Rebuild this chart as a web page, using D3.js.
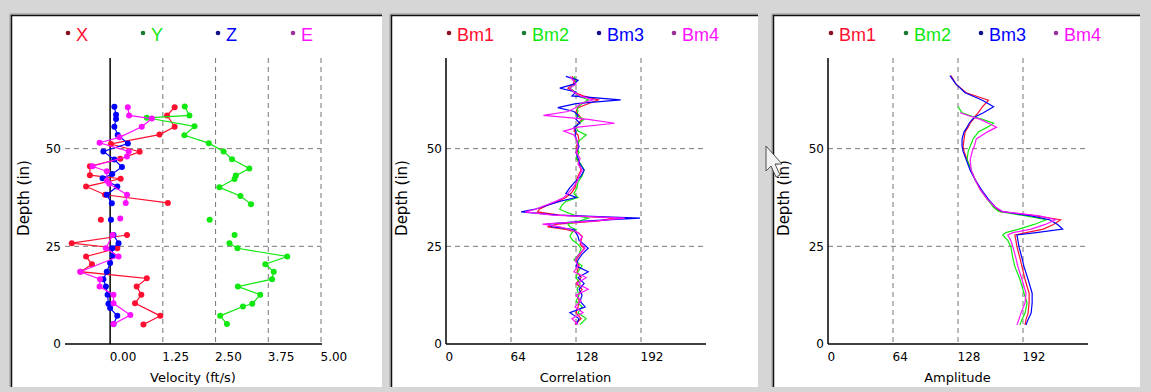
<!DOCTYPE html>
<meta charset="utf-8">
<script src="https://d3js.org/d3.v7.min.js"></script>
<style>
body { margin: 0; background: #d6d6d6; }
svg { display: block; }
</style>
<body></body>
<script>

// ---- data ----
// velocity panel: [depth (in), velocity (ft/s)], null = gap in trace
var velNames = ["X", "Y", "Z", "E"];
var velX = [[60.6,1.53],[58.5,1.35],[55.6,1.53],[53.6,1.17],[51.2,0.02],[49.2,0.70],[47.4,0.24],[45.5,-0.48],[43.2,-0.48],[42.3,0.25],[40.3,-0.57],[38.2,-0.12],[36.1,1.37],[33.8,null],[31.8,-0.22],[29.8,null],[27.9,0.40],[25.8,-0.91],[24.5,0.17],[22.4,-0.57],[20.4,-0.43],[18.5,-0.70],[16.8,0.87],[14.7,0.63],[12.6,0.74],[10.4,0.59],[7.2,1.19],[5.0,0.79]];
var velY = [[60.8,1.77],[58.5,1.88],[57.9,0.87],[55.7,2.00],[53.4,1.76],[51.4,2.34],[49.3,2.69],[47.3,2.89],[44.9,3.30],[43.1,2.98],[42.2,2.95],[40.1,2.59],[37.9,3.09],[35.8,3.34],[33.8,null],[31.8,2.36],[29.8,null],[27.9,2.95],[26.8,null],[25.8,2.83],[24.5,3.02],[22.4,4.20],[20.4,3.68],[18.5,3.88],[16.6,3.84],[14.7,3.03],[12.6,3.56],[10.3,3.37],[9.6,3.15],[7.2,2.61],[5.1,2.77]];
var velZ = [[60.7,0.10],[58.7,0.14],[57.6,0.14],[55.6,0.10],[53.5,0.18],[51.3,0.42],[49.3,-0.16],[47.2,0.10],[45.3,0.28],[43.5,0.05],[42.4,-0.18],[40.3,0.17],[38.2,-0.08],[36.0,0.04],[33.8,null],[31.8,0.02],[29.8,null],[27.9,0.08],[25.8,0.20],[24.5,0.05],[22.6,0.06],[20.7,0.00],[18.5,-0.08],[16.6,-0.16],[14.7,-0.10],[12.6,-0.06],[10.3,-0.04],[9.2,0.00],[7.2,0.17],[5.1,0.08]];
var velE = [[60.6,0.42],[58.5,0.45],[57.7,0.99],[55.6,0.75],[52.9,0.22],[51.5,-0.25],[49.3,0.44],[48.0,0.40],[45.5,-0.42],[44.2,-0.08],[41.8,-0.08],[41.0,-0.02],[38.2,0.40],[36.1,0.37],[33.8,null],[32.1,0.24],[29.8,null],[27.9,0.06],[24.5,-0.10],[22.4,0.20],[18.5,-0.71],[16.6,-0.24],[14.7,-0.25],[12.6,0.08],[10.4,0.08],[7.4,0.48],[5.1,0.08]];

var beamNames = ["Bm1", "Bm2", "Bm3", "Bm4"];

// correlation panel
var corrDepth = [68.5,67.5,66.5,65.5,64.5,63.5,62.5,61.5,60.5,59.5,58.5,57.5,56.5,55.5,54.5,53.5,52,50.5,49,47.5,46,44.5,43,41.5,40,38.5,37.5,36.5,35.5,34.5,33.8,33,32.2,31.5,30.7,30,29.3,28.5,27.5,26.5,25.5,24.5,23,21.5,20,18.5,17,15.5,14,12.5,11,9.5,8,6.5,5];
var corrBm1 = [124,127,125,120,126,135,150,140,130,128,131,134,130,128,126,130,131,128,130,129,131,133,130,128,127,123,118,110,100,92,90,112,168,150,110,100,118,130,134,133,132,136,132,128,131,129,133,128,134,130,131,130,128,133,127];
var corrBm2 = [126,128,127,122,127,130,140,134,129,130,128,136,131,128,130,138,131,129,131,128,133,136,134,130,129,126,130,118,114,112,118,126,140,132,120,122,128,124,122,125,130,133,131,126,134,130,128,132,129,131,128,134,130,138,132];
var corrBm3 = [118,130,126,112,128,124,172,128,110,126,130,128,132,126,128,127,129,131,128,130,132,136,133,127,122,118,128,112,100,88,74,110,191,140,100,104,126,128,130,131,136,140,134,130,128,140,130,136,131,134,132,137,122,131,128];
var corrBm4 = [122,125,128,122,126,132,145,132,128,120,96,140,166,130,116,126,129,130,128,132,130,134,131,129,125,120,116,108,98,88,78,105,176,148,95,112,122,130,134,132,134,137,131,127,130,126,138,129,140,128,133,127,135,124,130];

// amplitude panel
var ampDepth = [68.7,66.5,64.3,62.4,60.7,59.2,58.3,57.5,56.5,55.5,54.3,52.5,50.6,49.3,47.2,44.5,42,39.5,37,35,33.9,32.8,31.8,30.6,29.4,28.5,27.9,26.5,24.9,22,19.8,16.5,13,10.5,7.9,6.3,4.9];
var ampBm1 = [121,126,136,158,152,148,145,143,140,138,135,134,133,134,137,141,145,150,157,164,170,205,229,222,212,195,184,185,186,189,191,194,198,198,197,195,194];
var ampBm2 = [null,null,null,null,128,132,142,152,163,157,148,143,140,138,137,141,145,150,157,163,168,195,215,203,188,175,172,177,180,182,184,189,193,196,194,191,189];
var ampBm3 = [120,126,135,152,163,153,146,142,139,137,134,132,132,133,136,140,145,151,158,165,171,200,218,226,231,205,186,187,188,191,193,197,201,201,200,197,195];
var ampBm4 = [null,null,null,null,null,130,140,150,158,166,157,146,144,142,140,141,145,150,157,165,172,208,224,214,200,182,177,180,182,185,187,191,195,194,190,188,186];

var depthTicks = [0, 25, 50];

var lineColors = ["#ff0f2f", "#10e810", "#0000ff", "#ff10ff"];
var dotColors = ["#8a1020", "#1a7a30", "#10108a", "#9a309a"];

function pairs(depths, vals) {
  return depths.map(function(d, i) { return [d, vals[i]]; });
}

var panels = [
  { left: 11, width: 371, range: [65, 321], domain: [-1.07, 5], ticks: [0, 1.25, 2.5, 3.75, 5],
    grid: [1.25, 2.5, 3.75, 5], fmt: d3.format(".2f"), title: "Velocity (ft/s)", names: velNames,
    series: [velX, velY, velZ, velE], markers: true, depthX: 29 },
  { left: 391, width: 367, range: [446, 705], domain: [0, 255], ticks: [0, 64, 128, 192],
    grid: [64, 128, 192], fmt: d3.format("d"), title: "Correlation", names: beamNames,
    series: [pairs(corrDepth, corrBm1), pairs(corrDepth, corrBm2), pairs(corrDepth, corrBm3), pairs(corrDepth, corrBm4)],
    markers: false, depthX: 407 },
  { left: 773, width: 367, range: [828, 1087], domain: [0, 255], ticks: [0, 64, 128, 192],
    grid: [64, 128, 192], fmt: d3.format("d"), title: "Amplitude", names: beamNames,
    series: [pairs(ampDepth, ampBm1), pairs(ampDepth, ampBm2), pairs(ampDepth, ampBm3), pairs(ampDepth, ampBm4)],
    markers: false, depthX: 789 }
];

var svg = d3.select("body").append("svg")
  .attr("width", 1151)
  .attr("height", 392);

var yScale = d3.scaleLinear().domain([0, 73.2]).range([344, 58]);

panels.forEach(function(p) {
  var g = svg.append("g");
  var x = d3.scaleLinear().domain(p.domain).range(p.range);

  // sunken white panel
  g.append("rect").attr("x", p.left).attr("y", 15).attr("width", p.width).attr("height", 372).attr("fill", "#fff");
  g.append("path").attr("d", "M" + (p.left - 1) + ",387V14H" + (p.left + p.width))
    .attr("fill", "none").attr("stroke", "#9a9a9a").attr("stroke-width", 1);
  g.append("path").attr("d", "M" + (p.left + 0.5) + ",387V15.5H" + (p.left + p.width))
    .attr("fill", "none").attr("stroke", "#111").attr("stroke-width", 1.5);

  // grid
  g.selectAll(".vgrid").data(p.grid).enter().append("line")
    .attr("x1", function(d) { return x(d); }).attr("x2", function(d) { return x(d); })
    .attr("y1", yScale.range()[1]).attr("y2", yScale(0))
    .attr("stroke", "#777").attr("stroke-dasharray", "5,4");
  g.selectAll(".hgrid").data([25, 50]).enter().append("line")
    .attr("x1", p.range[0]).attr("x2", p.range[1])
    .attr("y1", function(d) { return yScale(d); }).attr("y2", function(d) { return yScale(d); })
    .attr("stroke", "#777").attr("stroke-dasharray", "5,4");

  // axes lines
  g.append("line").attr("x1", p.range[0]).attr("x2", p.range[1] + 1)
    .attr("y1", yScale(0)).attr("y2", yScale(0)).attr("stroke", "#000").attr("stroke-width", 1.5);
  g.append("line").attr("x1", x(0)).attr("x2", x(0))
    .attr("y1", yScale.range()[1]).attr("y2", yScale(0)).attr("stroke", "#000").attr("stroke-width", 1.5);

  // tick labels
  var xAxis = g.append("g")
    .attr("transform", "translate(0," + yScale(0) + ")")
    .call(d3.axisBottom(x).tickValues(p.ticks).tickFormat(p.fmt).tickSize(0).tickPadding(8));
  xAxis.select(".domain").remove();
  xAxis.selectAll("text").attr("text-anchor", "start").attr("dx", -1)
    .attr("font-family", "DejaVu Sans").attr("font-size", 12).attr("fill", "#000");

  var yAxis = g.append("g")
    .attr("transform", "translate(" + p.range[0] + ",0)")
    .call(d3.axisLeft(yScale).tickValues(depthTicks).tickFormat(d3.format("d")).tickSize(0).tickPadding(4));
  yAxis.select(".domain").remove();
  yAxis.selectAll("text").attr("font-family", "DejaVu Sans").attr("font-size", 12).attr("fill", "#000");

  // titles
  g.append("text").attr("x", (p.range[0] + p.range[1]) / 2).attr("y", 382)
    .attr("text-anchor", "middle").attr("font-family", "DejaVu Sans").attr("font-size", 13)
    .text(p.title);
  g.append("text").attr("transform", "translate(" + p.depthX + ",198) rotate(-90)")
    .attr("text-anchor", "middle").attr("font-family", "DejaVu Sans").attr("font-size", 15)
    .text("Depth (in)");

  // legend
  var leg = g.selectAll(".leg").data(p.names).enter().append("g")
    .attr("transform", function(d, i) { return "translate(" + (p.range[0] + 3 + i * 75) + ",33)"; });
  leg.append("circle").attr("r", 2.3).attr("fill", function(d, i) { return dotColors[i]; });
  leg.append("text").attr("x", 8).attr("y", 8)
    .attr("font-family", "Liberation Sans").attr("font-size", 18)
    .attr("fill", function(d, i) { return lineColors[i]; })
    .text(function(d) { return d; });

  // traces
  var line = d3.line()
    .defined(function(d) { return d[1] != null; })
    .x(function(d) { return x(d[1]); })
    .y(function(d) { return yScale(d[0]); });

  p.series.forEach(function(s, i) {
    g.append("path").datum(s)
      .attr("d", line)
      .attr("fill", "none")
      .attr("stroke", lineColors[i])
      .attr("stroke-width", 1.2);
    if (p.markers) {
      g.selectAll(".pt" + i).data(s.filter(function(d) { return d[1] != null; })).enter().append("circle")
        .attr("cx", function(d) { return x(d[1]); })
        .attr("cy", function(d) { return yScale(d[0]); })
        .attr("r", 3)
        .attr("fill", lineColors[i]);
    }
  });
});

// mouse pointer caught in the screenshot
svg.append("path")
  .attr("d", "M766,146L766,171L771,166L776,177L780,175L775,164L782,164Z")
  .attr("fill", "#f2f2f2").attr("stroke", "#505050").attr("stroke-width", 1);

</script>
